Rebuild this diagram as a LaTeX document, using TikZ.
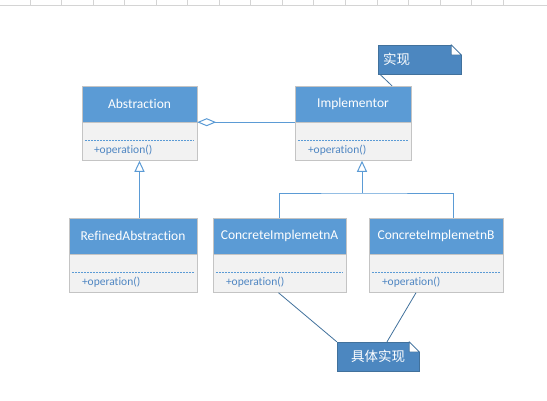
\documentclass[tikz,border=0pt]{standalone}
\usepackage{fontspec}
\setmainfont{Carlito}[Ligatures={NoCommon}]
\newfontfamily\cjk{Noto Sans CJK SC}
\usetikzlibrary{arrows.meta}

\definecolor{headblue}{HTML}{5B9BD5}
\definecolor{bodygray}{HTML}{F2F2F2}
\definecolor{boxgray}{HTML}{C4C4C4}
\definecolor{opblue}{HTML}{4F86C2}
\definecolor{lineblue}{HTML}{5B9BD5}
\definecolor{noteblue}{HTML}{4C87C0}
\definecolor{noteedge}{HTML}{41719C}
\definecolor{rulegray}{HTML}{D4D4D4}

\begin{document}
\begin{tikzpicture}[
    x=1pt, y=-1pt,
    head/.style={rectangle, draw=boxgray, fill=headblue, text=white, minimum height=36pt, inner sep=0pt, font=\fontsize{13.5}{16}\selectfont},
    body/.style={rectangle, draw=boxgray, fill=bodygray, minimum height=38.5pt, inner sep=0pt},
    sep/.style={draw=lineblue, line width=0.8pt, dash pattern=on 2pt off 1pt},
    op/.style={text=opblue, inner sep=0pt, anchor=west, font=\fontsize{11.5}{13}\selectfont},
    link/.style={draw=lineblue, line width=1pt},
    inherit/.style={link, -{Triangle[open, length=11pt, width=10pt, fill=white]}},
    notebox/.style={rectangle, draw=noteedge, fill=noteblue, text=white, minimum height=29pt, inner xsep=5pt, inner ysep=0pt, font=\cjk\fontsize{13.5}{16}\selectfont},
    noteline/.style={draw=noteedge, line width=0.8pt}
]
\useasboundingbox (0,0) rectangle (547,400);

% Ruler
\draw[rulegray, line width=1pt] (0,5.5) -- (547,5.5);
\foreach \i in {0,...,15}
    \draw[rulegray, line width=1pt] (30+31.55*\i,0) -- (30+31.55*\i,5.5);

% Abstraction
\node[head, minimum width=115pt] (abs) at (139.5,104) {Abstraction};
\node[body, minimum width=115pt] (abs-body) at (139.5,141.3) {};
\draw[sep] ([xshift=3pt,yshift=-19pt]abs-body.north west) -- ([xshift=-3pt,yshift=-19pt]abs-body.north east);
\node[op] (abs-op) at ([xshift=12pt,yshift=-28.5pt]abs-body.north west) {+operation()};

% Implementor
\node[head, minimum width=116pt] (impl) at (353,104) {Implementor};
\node[body, minimum width=116pt] (impl-body) at (353,141.3) {};
\draw[sep] ([xshift=3pt,yshift=-19pt]impl-body.north west) -- ([xshift=-3pt,yshift=-19pt]impl-body.north east);
\node[op] (impl-op) at ([xshift=13pt,yshift=-28.5pt]impl-body.north west) {+operation()};

% RefinedAbstraction
\node[head, minimum width=128pt] (ref) at (133,236) {RefinedAbstraction};
\node[body, minimum width=128pt] (ref-body) at (133,273.3) {};
\draw[sep] ([xshift=3pt,yshift=-19pt]ref-body.north west) -- ([xshift=-3pt,yshift=-19pt]ref-body.north east);
\node[op] (ref-op) at ([xshift=13pt,yshift=-28.5pt]ref-body.north west) {+operation()};

% ConcreteImplemetnA
\node[head, minimum width=133pt] (ca) at (279.5,236) {ConcreteImplemetnA};
\node[body, minimum width=133pt] (ca-body) at (279.5,273.3) {};
\draw[sep] ([xshift=3pt,yshift=-19pt]ca-body.north west) -- ([xshift=-3pt,yshift=-19pt]ca-body.north east);
\node[op] (ca-op) at ([xshift=13pt,yshift=-28.5pt]ca-body.north west) {+operation()};

% ConcreteImplemetnB
\node[head, minimum width=134pt] (cb) at (436,236) {ConcreteImplemetnB};
\node[body, minimum width=134pt] (cb-body) at (436,273.3) {};
\draw[sep] ([xshift=3pt,yshift=-19pt]cb-body.north west) -- ([xshift=-3pt,yshift=-19pt]cb-body.north east);
\node[op] (cb-op) at ([xshift=13pt,yshift=-28.5pt]cb-body.north west) {+operation()};

% Notes
\node[notebox, text width=73pt, align=left] (note-impl) at (419.5,59.5) {实现};
\node[notebox, minimum width=82pt] (note-conc) at (378,356.5) {具体实现};
\foreach \n in {note-impl, note-conc} {
    \fill[white] ([xshift=-10pt,yshift=0.6pt]\n.north east) -- ([xshift=0.6pt,yshift=0.6pt]\n.north east) -- ([xshift=0.6pt,yshift=-10pt]\n.north east) -- cycle;
    \draw[noteedge, line width=0.6pt, fill=white] ([xshift=-10pt]\n.north east) -- ([xshift=-10pt,yshift=-10pt]\n.north east) -- ([yshift=-10pt]\n.north east) -- cycle;
}

% Connectors
\draw[link, {Diamond[open, length=19pt, width=8pt, fill=white]}-] (abs.south east) -- (impl.south west);
\draw[inherit] (abs-body.south |- ref.north) -- (abs-body.south);
\coordinate (join) at (362,193);
\draw[link] (ca.north) |- (join) -| ([xshift=17pt]cb.north);
\draw[inherit] (join) -- (join |- impl-body.south);
\draw[noteline] ([xshift=2pt]note-impl.south west) -- ([xshift=39pt]impl.north);
\draw[noteline] ([xshift=-1pt]ca-body.south) -- (note-conc.north west);
\draw[noteline] ([xshift=-20pt]cb-body.south) -- ([xshift=9pt]note-conc.north);

\end{tikzpicture}
\end{document}
